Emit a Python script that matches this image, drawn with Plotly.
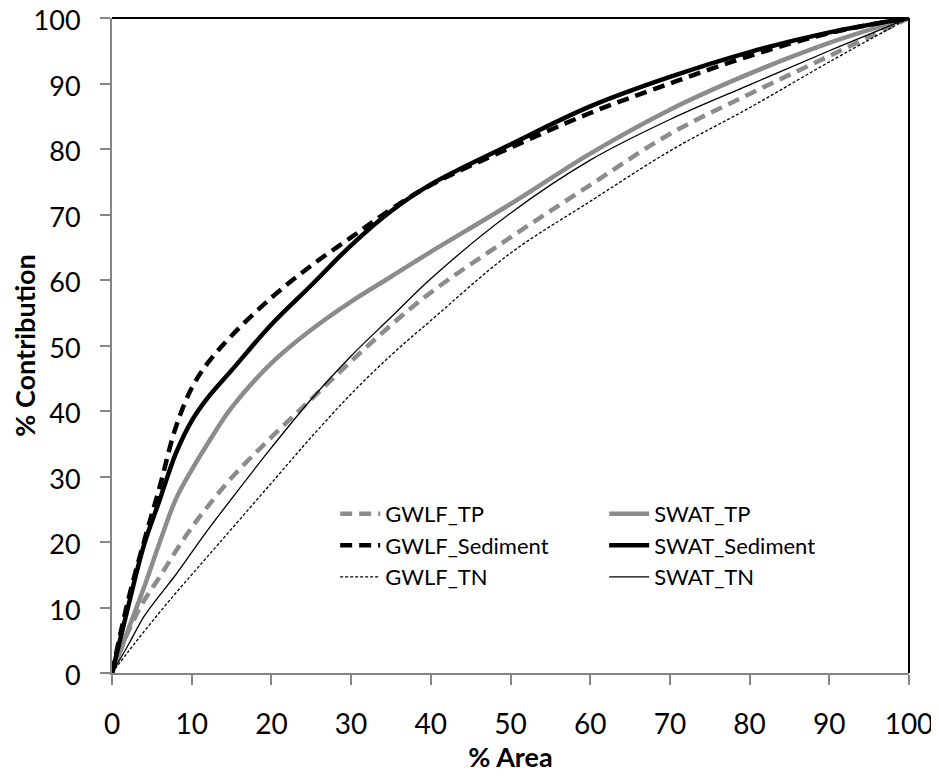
import plotly.graph_objects as go

area = [0, 2, 4, 6, 8, 10, 12, 15, 20, 25, 30, 35, 40, 50, 60, 70, 80, 90, 100]

gwlf_tp = [0, 6.2, 11, 14.7, 18.6, 22.2, 25.4, 29.8, 36, 41.8, 47.6, 53.1, 58.1, 66.5, 74.5, 82.3, 88.4, 94.2, 100]
swat_tp = [0, 6.5, 13, 20, 26.5, 31, 35, 40.5, 47.3, 52.4, 56.7, 60.5, 64.3, 71.6, 79.3, 86, 91.5, 96.2, 100]
gwlf_sed = [0, 11, 20, 28.5, 37.5, 43.5, 47.3, 51.5, 57.3, 62.2, 66.5, 70.8, 74.5, 80.2, 85.5, 90, 94.2, 97.7, 100]
swat_sed = [0, 10, 19.5, 26.5, 33.5, 38.5, 42, 46.2, 53.2, 59.2, 65.3, 70.5, 74.6, 80.7, 86.5, 91, 94.8, 97.8, 100]
gwlf_tn = [0, 3.2, 6.3, 9.3, 12.2, 15, 17.8, 22, 29, 36, 42.6, 48.5, 53.8, 64.1, 72, 79.7, 86.3, 93.3, 100]
swat_tn = [0, 4.2, 8.6, 11.9, 15, 18.4, 21.8, 26.6, 34.4, 41.8, 48.4, 54.3, 60.2, 70.2, 78.3, 84.5, 89.8, 95, 100]

GRAY = "#8c8c8c"
FONT = "Lato"

series = [
    ("GWLF_TP", gwlf_tp, GRAY, 4.5, "12px,7px"),
    ("SWAT_TP", swat_tp, GRAY, 4.5, "solid"),
    ("GWLF_Sediment", gwlf_sed, "black", 4.5, "12px,7px"),
    ("SWAT_Sediment", swat_sed, "black", 4.5, "solid"),
    ("GWLF_TN", gwlf_tn, "black", 1.3, "3px,2px"),
    ("SWAT_TN", swat_tn, "black", 1.3, "solid"),
]

fig = go.Figure()
for name, ys, color, width, dash in series:
    fig.add_trace(go.Scatter(
        x=area, y=ys, name=name, mode="lines",
        line=dict(color=color, width=width, dash=dash, shape="spline", smoothing=1.0),
    ))

axis_common = dict(
    range=[0, 100], dtick=10, showgrid=False, zeroline=False,
    showline=True, linecolor="#868686", linewidth=2,
    ticks="outside", ticklen=10, tickwidth=2, tickcolor="#868686",
    ticklabeloverflow="allow", automargin=False,
)

fig.update_xaxes(**axis_common, ticklabelstandoff=15,
                 tickfont=dict(family=FONT, size=28, color="black"),
                 title=dict(text="<b>% Area</b>", font=dict(family=FONT, size=27, color="black"), standoff=10))
fig.update_yaxes(**axis_common, ticklabelstandoff=14, ticklabelshift=3,
                 tickfont=dict(family=FONT, size=27, color="black"),
                 title=dict(text="<b>% Contribution</b>", font=dict(family=FONT, size=27, color="black"), standoff=0))

# top and right border of plot area (black)
fig.add_shape(type="line", xref="x domain", yref="y domain", x0=0, x1=1, y0=1, y1=1,
              line=dict(color="black", width=2))
fig.add_shape(type="line", xref="x domain", yref="y domain", x0=1, x1=1, y0=0, y1=1,
              line=dict(color="black", width=2))

fig.update_layout(
    width=924, height=778,
    margin=dict(l=104, r=23, t=10, b=113),
    paper_bgcolor="white", plot_bgcolor="white",
    font=dict(family=FONT, color="black"),
    legend=dict(
        orientation="h", x=0.28, y=0.275, xanchor="left", yanchor="top",
        entrywidth=214, itemwidth=40,
        font=dict(family=FONT, size=22, color="black"),
        bgcolor="rgba(0,0,0,0)", tracegroupgap=0,
    ),
)

fig.write_html("out.html")
